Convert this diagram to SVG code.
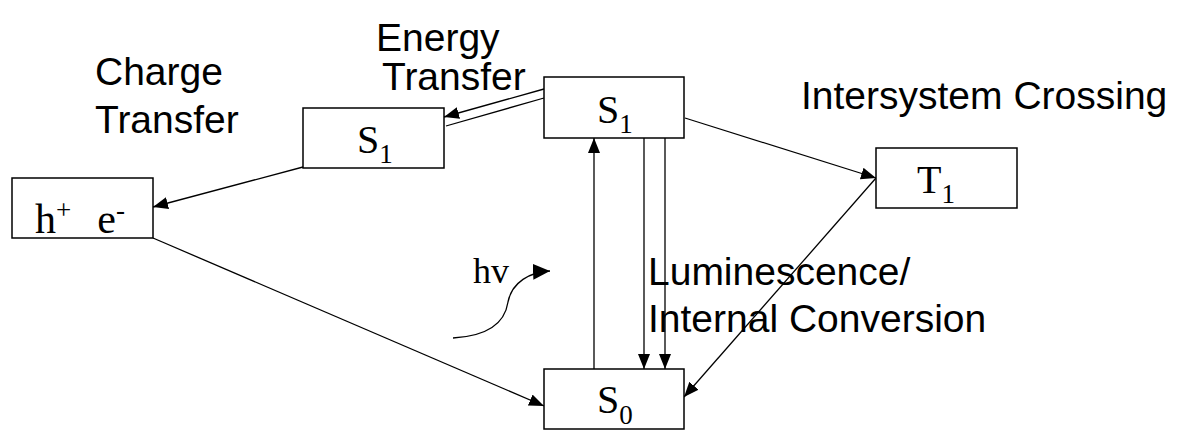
<svg xmlns="http://www.w3.org/2000/svg" width="1183" height="430" viewBox="0 0 1183 430">
<style>
.box{fill:#fff;stroke:#000;stroke-width:1.5}
.lbl{font-family:"Liberation Serif","Times New Roman",serif;fill:#000}
.txt{font-family:"Liberation Sans",Arial,sans-serif;fill:#000;font-size:39px}
.ln{stroke:#000;stroke-width:1.3;fill:none}
</style>
<defs>
<marker id="ah" markerUnits="userSpaceOnUse" markerWidth="17" markerHeight="13" refX="15" refY="6" orient="auto">
<path d="M0,0 L15,6 L0,12 z" fill="#000"/>
</marker>
<marker id="ahb" markerUnits="userSpaceOnUse" markerWidth="20" markerHeight="18" refX="17" refY="8" orient="auto">
<path d="M0,0 L17,8 L0,16 z" fill="#000"/>
</marker>
</defs>
<rect width="1183" height="430" fill="#fff"/>
<g id="connectors">
<line class="ln" x1="544" y1="89" x2="444" y2="117" marker-end="url(#ah)"/>
<line class="ln" x1="544" y1="98" x2="446" y2="126"/>
<line class="ln" x1="594" y1="369" x2="594" y2="138" marker-end="url(#ah)"/>
<line class="ln" x1="644" y1="138" x2="644" y2="369" marker-end="url(#ah)"/>
<line class="ln" x1="665" y1="138" x2="665" y2="369" marker-end="url(#ah)"/>
<line class="ln" x1="685" y1="118" x2="876" y2="178" marker-end="url(#ah)"/>
<line class="ln" x1="876" y1="178" x2="684" y2="397" stroke-width="1" marker-end="url(#ah)"/>
<line class="ln" x1="303" y1="167" x2="153" y2="207" marker-end="url(#ah)"/>
<line class="ln" x1="153" y1="238" x2="544" y2="406" marker-end="url(#ah)"/>
<path class="ln" d="M453,338 C490,336 505,322 508,302 C512,282 530,272 550,271" stroke-width="3" marker-end="url(#ahb)"/>
</g>
<g id="node-s1-top">
<rect class="box" x="544" y="77" width="140" height="61"/>
<text class="lbl" x="597" y="123" font-size="40">S<tspan font-size="27" dy="10">1</tspan></text>
</g>
<g id="node-s1-left">
<rect class="box" x="303" y="108" width="141" height="60"/>
<text class="lbl" x="357" y="153" font-size="40">S<tspan font-size="27" dy="10">1</tspan></text>
</g>
<g id="node-he">
<rect class="box" x="12" y="178" width="141" height="60"/>
<text class="lbl" x="35" y="233" font-size="42">h<tspan font-size="27" dy="-14">+</tspan><tspan dy="14" dx="26">e</tspan><tspan font-size="27" dy="-14">-</tspan></text>
</g>
<g id="node-t1">
<rect class="box" x="876" y="148" width="141" height="60"/>
<text class="lbl" x="917" y="193" font-size="40">T<tspan font-size="27" dy="10">1</tspan></text>
</g>
<g id="node-s0">
<rect class="box" x="544" y="369" width="140" height="60"/>
<text class="lbl" x="597" y="413" font-size="40">S<tspan font-size="27" dy="11">0</tspan></text>
</g>
<g id="labels">
<text class="txt" x="95" y="85">Charge</text>
<text class="txt" x="95" y="133">Transfer</text>
<text class="txt" x="376" y="51" font-size="36">Energy</text>
<text class="txt" x="382" y="90" font-size="36">Transfer</text>
<text class="txt" x="801" y="109">Intersystem Crossing</text>
<text class="txt" x="648" y="285">Luminescence/</text>
<text class="txt" x="648" y="332">Internal Conversion</text>
<text class="lbl" x="473" y="283" font-size="36">hv</text>
</g>
</svg>
